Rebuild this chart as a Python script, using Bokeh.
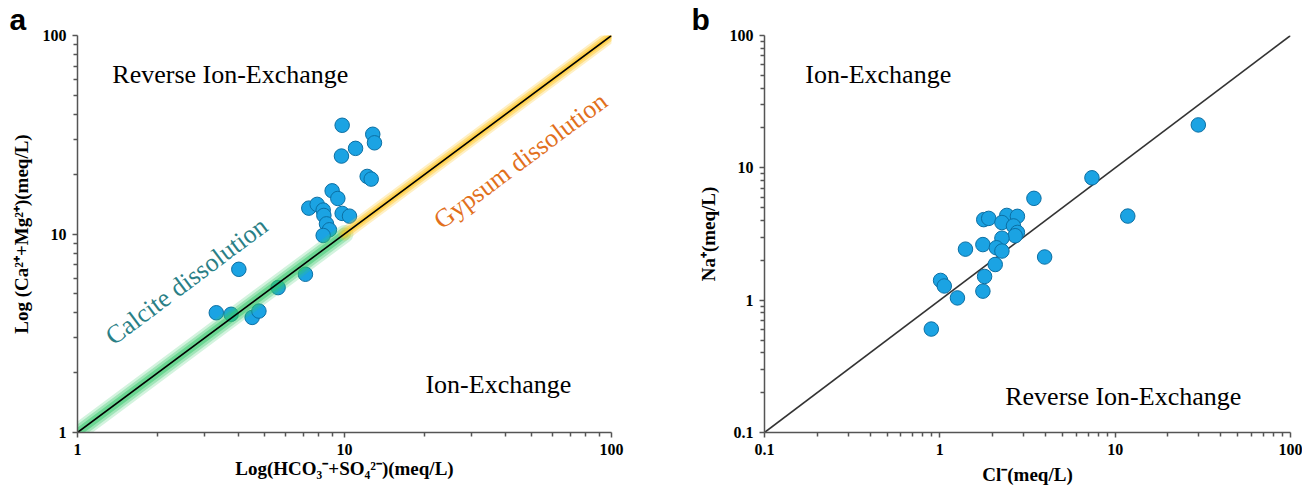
from bokeh.plotting import figure
from bokeh.models import Range1d, FixedTicker, CustomJSTickFormatter, Title
from bokeh.layouts import row
from bokeh.embed import file_html
from bokeh.resources import INLINE
from bokeh.core.properties import value

# ---------------- data ----------------
# panel a : Ca+Mg vs HCO3+SO4 (meq/L)
a_x = [9.80, 12.76, 12.95, 11.0, 9.74, 12.16, 12.59, 8.99, 9.44, 7.35, 7.90, 8.32,
       8.37, 9.80, 10.44, 8.56, 8.78, 8.32, 4.02, 7.14, 5.64, 3.31, 3.76, 4.51, 4.78]
a_y = [35.3, 31.8, 28.8, 27.0, 24.7, 19.5, 18.9, 16.5, 15.1, 13.5, 14.1, 13.2,
       12.4, 12.7, 12.3, 11.25, 10.5, 9.83, 6.64, 6.27, 5.37, 4.01, 3.94, 3.80, 4.09]
# panel b : Na vs Cl (meq/L)
b_x = [7.37, 3.44, 1.78, 1.90, 2.41, 2.77, 2.26, 2.63, 2.77, 2.69, 2.26, 1.40, 1.76,
       2.10, 2.26, 3.96, 2.07, 1.80, 1.01, 1.06, 1.76, 1.26, 0.894, 29.8, 11.8]
b_y = [8.41, 5.88, 4.06, 4.15, 4.37, 4.30, 3.86, 3.64, 3.25, 3.07, 2.94, 2.43, 2.63,
       2.49, 2.35, 2.12, 1.86, 1.51, 1.41, 1.28, 1.17, 1.04, 0.605, 21.1, 4.32]

# reference 1:1 lines
a_line = [1, 100]
calcite_seg = [1, 10]
gypsum_seg = [10, 100]
b_line = [0.1, 100]

a_ticks = [1, 10, 100]
b_ticks = [0.1, 1, 10, 100]

SERIF = "Liberation Serif"
SANS = "Liberation Sans"


def minors(major):
    out = []
    for m in major[:-1]:
        out += [m * k for k in range(2, 10)]
    return out


def style(p, ticks):
    for ax in (p.xaxis, p.yaxis):
        ax.ticker = FixedTicker(ticks=ticks, minor_ticks=minors(ticks))
        ax.formatter = CustomJSTickFormatter(code="return String(tick);")
        ax.major_label_text_font = SERIF
        ax.major_label_text_font_style = "bold"
        ax.major_label_text_font_size = "16px"
        ax.major_label_text_color = "black"
        ax.axis_label_text_font = SERIF
        ax.axis_label_text_font_style = "bold"
        ax.axis_label_text_font_size = "19px"
        ax.axis_label_text_color = "black"
        ax.axis_line_color = "#555555"
        ax.axis_line_width = 1.5
        ax.major_tick_line_color = "#555555"
        ax.minor_tick_line_color = "#555555"
        ax.major_tick_line_width = 1.5
        ax.minor_tick_line_width = 1.5
        ax.major_tick_in = 0
        ax.major_tick_out = 5
        ax.minor_tick_in = 0
        ax.minor_tick_out = 4
        ax.major_label_standoff = 6
    p.xgrid.visible = False
    p.ygrid.visible = False
    p.outline_line_color = None


def region_text(p, x, y, txt, size="26px", color="black", angle=0.0, align="left"):
    p.text(x=[x], y=[y], text=[txt], text_font=value(SERIF), text_font_size=size,
           text_color=color, angle=angle, text_align=align, text_baseline="middle")


def panel_letter(p, letter, offset):
    p.add_layout(Title(text=letter, align="left", offset=offset, standoff=0,
                       text_font=SANS, text_font_style="bold", text_font_size="30px",
                       text_color="black"), "above")


# ---------------- panel a ----------------
pa = figure(width=690, height=491, x_axis_type="log", y_axis_type="log",
            x_range=Range1d(1, 100), y_range=Range1d(1, 100),
            output_backend="svg", toolbar_location=None,
            min_border_left=77, min_border_right=79, min_border_top=34, min_border_bottom=58)
style(pa, a_ticks)
pa.xaxis.axis_label = "Log(HCO\u2083\u207b+SO\u2084\u00b2\u207b)(meq/L)"
pa.yaxis.axis_label = "Log (Ca\u00b2\u207a+Mg\u00b2\u207a)(meq/L)"
pa.xaxis.axis_label_standoff = 0
pa.yaxis.axis_label_standoff = 8

pa.scatter(a_x, a_y, size=14.5, fill_color="#1ba3e3", line_color="#0c6fa3", line_width=1)

for w, al in ((18, 0.22), (13, 0.32), (8, 0.5)):
    pa.line(calcite_seg, calcite_seg, line_width=w, line_color="#35c86b", line_alpha=al, line_cap="round")
for w, al in ((13, 0.28), (9, 0.45), (5, 0.6)):
    pa.line(gypsum_seg, gypsum_seg, line_width=w, line_color="#ffc82c", line_alpha=al, line_cap="round")
pa.line(a_line, a_line, line_width=1.6, line_color="black")

region_text(pa, 1.35, 63.8, "Reverse  Ion-Exchange")
region_text(pa, 20.1, 1.74, "Ion-Exchange")
region_text(pa, 2.56, 5.8, "Calcite dissolution", color="#2a7f86", angle=0.642, align="center")
region_text(pa, 45.6, 23.4, "Gypsum dissolution", color="#e2701c", angle=0.642, align="center")

panel_letter(pa, "a", -68)

# ---------------- panel b ----------------
pb = figure(width=612, height=491, x_axis_type="log", y_axis_type="log",
            x_range=Range1d(0.1, 100), y_range=Range1d(0.1, 100),
            output_backend="svg", toolbar_location=None,
            min_border_left=74, min_border_right=12, min_border_top=28, min_border_bottom=59)
style(pb, b_ticks)
pb.xaxis.axis_label = "Cl\u207b(meq/L)"
pb.yaxis.axis_label = "Na\u207a(meq/L)"
pb.xaxis.axis_label_standoff = 6
pb.yaxis.axis_label_standoff = 8

pb.line(b_line, b_line, line_width=1.6, line_color="#333333")
pb.scatter(b_x, b_y, size=14.5, fill_color="#1ba3e3", line_color="#0c6fa3", line_width=1)

region_text(pb, 0.171, 50.4, "Ion-Exchange")
region_text(pb, 2.36, 0.188, "Reverse  Ion-Exchange")

panel_letter(pb, "b", -73)

layout = row(pa, pb)
open("out.html", "w").write(file_html(layout, INLINE))
